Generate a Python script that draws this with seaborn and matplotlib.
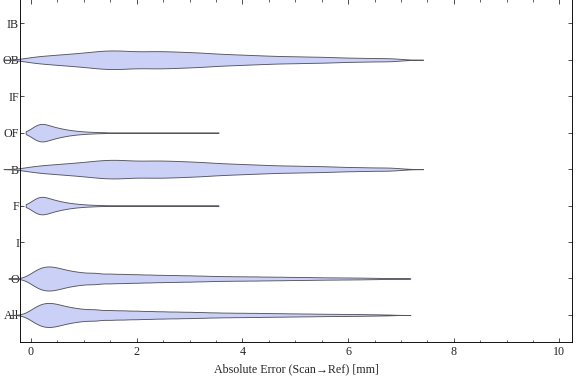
import numpy as np
import matplotlib
matplotlib.use("Agg")
import matplotlib.pyplot as plt
import seaborn as sns
from matplotlib.ticker import MultipleLocator

# ---------------- data ----------------
categories = ["IB", "OB", "IF", "OF", "B", "F", "I", "O", "All"]

# Outer-surface errors (used by "O" and "All"), as value / count histogram
o_values = [0.0, 0.1, 0.2, 0.3, 0.4, 0.5, 0.6, 0.7, 0.8, 0.9, 1.0, 1.1,
            1.25, 1.5, 1.75, 2.0, 2.25, 2.5, 2.75, 3.0, 3.25, 3.5, 3.75,
            4.0, 4.25, 4.5, 4.75, 5.0, 5.25, 5.5, 5.75, 6.0, 6.25, 6.5, 6.75]
o_counts = [22, 35, 45, 48, 46, 41, 35, 30, 27, 24, 22, 21,
            44, 45, 42, 39, 36, 33, 31, 29, 26, 23, 21,
            20, 19, 17, 16, 14, 13, 11, 10, 9, 8, 6, 4]

# Back-region errors (used by "OB" and "B")
ob_values = [0.0, 0.25, 0.5, 0.75, 1.0, 1.25, 1.5, 1.75, 2.0, 2.25, 2.5, 2.75,
             3.0, 3.25, 3.5, 3.75, 4.0, 4.25, 4.5, 4.75, 5.0, 5.25, 5.5, 5.75,
             6.0, 6.25, 6.5, 6.75, 6.9]
ob_counts = [6, 8, 10, 12, 14, 17, 19, 18, 16, 17, 17, 16,
             15, 14, 12, 11, 10, 9, 8, 7, 7, 6, 6, 5,
             4, 4, 3, 3, 2]

# Front-region errors (used by "OF" and "F")
of_values = [0.0, 0.1, 0.2, 0.3, 0.4, 0.5, 0.6, 0.7, 0.8, 0.9, 1.0, 1.1, 1.2,
             1.3, 1.4, 1.5, 1.75, 2.0, 2.25, 2.5, 2.75, 3.0, 3.25, 3.45]
of_counts = [16, 36, 42, 34, 26, 21, 16, 12, 9, 7, 5, 4, 3,
             2, 2, 1, 1, 1, 1, 1, 1, 1, 1, 1]

series = {
    "O": (o_values, o_counts),
    "OB": (ob_values, ob_counts),
    "OF": (of_values, of_counts),
}
category_source = {"OB": "OB", "OF": "OF", "B": "OB", "F": "OF", "O": "O", "All": "O"}

# style per data source: (bandwidth in mm, cut, violin width)
style = {"O": (0.13, 3.3, 0.66), "OB": (0.2, 2.6, 0.51), "OF": (0.1, 1.0, 0.48)}

fill_color = "#CBD1F6"
edge_color = "#55555F"

# ---------------- figure ----------------
sns.set_style("white")
plt.rcParams["font.family"] = ["Liberation Serif", "DejaVu Serif"]
plt.rcParams["font.size"] = 12

fig = plt.figure(figsize=(576 / 72, 381 / 72), dpi=72)
ax = fig.add_axes([20 / 576, 39 / 381, 552 / 576, 342 / 381 + 0.002])

for cat in categories:
    if cat not in category_source:
        continue
    src = category_source[cat]
    vals, cnts = series[src]
    data = np.repeat(np.asarray(vals, float), cnts)
    bw, cut, width = style[src]
    factor = bw / np.std(data, ddof=1)
    sns.violinplot(x=data, y=[cat] * len(data), order=categories, orient="y",
                   ax=ax, color=fill_color, saturation=1, linecolor=edge_color,
                   linewidth=0.9, inner=None, density_norm="width", width=width,
                   cut=cut, bw_method=factor, gridsize=500)

for coll in ax.collections:
    coll.set_clip_on(False)

ax.set_xlim(-0.208, 10.237)
ax.set_ylim(8.742, -0.66)
ax.set_yticks(range(len(categories)))
ax.set_yticklabels(categories)
ax.xaxis.set_major_locator(MultipleLocator(2))
ax.xaxis.set_minor_locator(MultipleLocator(0.5))
ax.tick_params(axis="x", which="major", direction="in", length=4.5, width=0.8,
               top=True, bottom=True, pad=4, labelsize=12)
ax.tick_params(axis="x", which="minor", direction="in", length=2.5, width=0.7,
               top=True, bottom=True)
ax.tick_params(axis="y", which="major", direction="in", length=4, width=0.8,
               left=True, right=True, pad=1, labelsize=12)
for s in ax.spines.values():
    s.set_linewidth(0.9)
    s.set_color("black")
ax.spines["top"].set_visible(False)
ax.set_ylabel("")
ax.set_xlabel("Absolute Error (Scan\u2192Ref) [mm]", fontsize=12, labelpad=5)

fig.savefig("out.png", dpi=72)
